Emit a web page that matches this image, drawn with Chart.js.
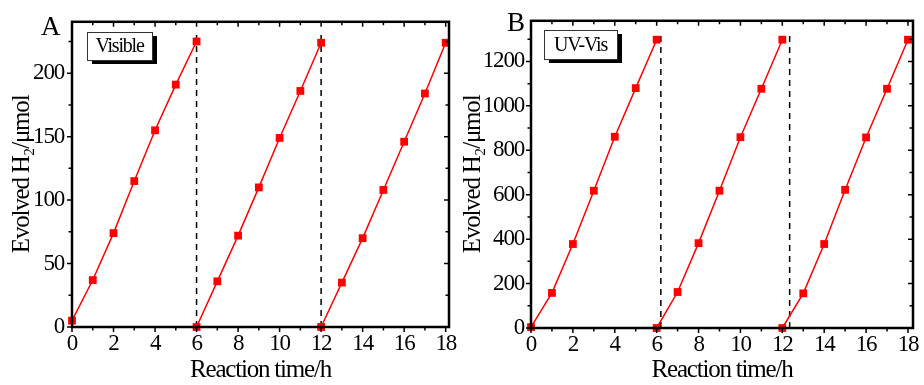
<!DOCTYPE html>
<html>
<head>
<meta charset="utf-8">
<script src="https://cdn.jsdelivr.net/npm/chart.js@4"></script>
<style>
  body { margin: 0; background: #fff; }
  #wrap { position: relative; width: 924px; height: 385px; }
  canvas { position: absolute; top: 0; }
</style>
</head>
<body>
<div id="wrap">
  <canvas id="chartA" width="462" height="385" style="left:0"></canvas>
  <canvas id="chartB" width="462" height="385" style="left:462px"></canvas>
</div>
<script>
'use strict';

// reaction hours for the three cycles
const cycle1Hours = [0, 1, 2, 3, 4, 5, 6];
const cycle2Hours = [6, 7, 8, 9, 10, 11, 12];
const cycle3Hours = [12, 13, 14, 15, 16, 17, 18];

// evolved H2 (umol), visible light
const visibleCycle1 = [5, 37, 74, 115, 155, 191, 225];
const visibleCycle2 = [0, 36, 72, 110, 149, 186, 224];
const visibleCycle3 = [0, 35, 70, 108, 146, 184, 224];

// evolved H2 (umol), UV-Vis light
const uvvisCycle1 = [4, 158, 378, 618, 861, 1080, 1298];
const uvvisCycle2 = [0, 162, 382, 618, 859, 1077, 1298];
const uvvisCycle3 = [0, 156, 378, 622, 858, 1077, 1298];

// evacuation marks (dashed lines)
const visibleCuts = [6, 12];
const visibleCutTop = 231;
const uvvisCuts = [6.2, 12.35];
const uvvisCutTop = 1331;

// ticks
const xTicks = [0, 2, 4, 6, 8, 10, 12, 14, 16, 18];
const xMinorTicks = [1, 3, 5, 7, 9, 11, 13, 15, 17];
const visibleYTicks = [0, 50, 100, 150, 200];
const visibleYMinorTicks = [25, 75, 125, 175, 225];
const uvvisYTicks = [0, 200, 400, 600, 800, 1000, 1200];
const uvvisYMinorTicks = [100, 300, 500, 700, 900, 1100, 1300];

const serif = "'Liberation Serif', 'Times New Roman', serif";

function pairs(xs, ys) {
  return xs.map((x, i) => ({ x: x, y: ys[i] }));
}

function cycleSet(xs, ys) {
  return {
    data: pairs(xs, ys),
    borderColor: '#ff0000',
    backgroundColor: '#ff0000',
    borderWidth: 1.5,
    pointStyle: 'rect',
    pointRadius: 5.5,
    pointBorderWidth: 0,
    clip: false,
    tension: 0
  };
}

function cutSet(x, top) {
  return {
    data: [{ x: x, y: 0 }, { x: x, y: top }],
    borderColor: '#000',
    borderWidth: 1.5,
    borderDash: [6, 5],
    pointRadius: 0,
    clip: false
  };
}

// frame, inside/outside ticks, panel letter and condition box
const framePlugin = {
  id: 'frame',
  beforeDraw(chart) {
    chart.ctx.letterSpacing = '-1.2px';
  },
  afterDatasetsDraw(chart, args, opts) {
    const { ctx, chartArea: a } = chart;
    const x = chart.scales.x;
    const y = chart.scales.y;
    ctx.save();
    ctx.strokeStyle = '#000';
    ctx.lineWidth = 1.5;
    ctx.beginPath();
    const xMarks = [[opts.xMajor, 5], [opts.xMinor, 3.5]];
    xMarks.forEach(([vals, len]) => {
      vals.forEach(v => {
        const px = x.getPixelForValue(v);
        ctx.moveTo(px, a.bottom); ctx.lineTo(px, a.bottom + len);
        ctx.moveTo(px, a.top); ctx.lineTo(px, a.top + len);
      });
    });
    const yMarks = [[opts.yMajor, 5], [opts.yMinor, 3.5]];
    yMarks.forEach(([vals, len]) => {
      vals.forEach(v => {
        const py = y.getPixelForValue(v);
        ctx.moveTo(a.left, py); ctx.lineTo(a.left - len, py);
        ctx.moveTo(a.right, py); ctx.lineTo(a.right - len, py);
      });
    });
    ctx.stroke();
    ctx.lineWidth = 2.5;
    ctx.strokeRect(a.left, a.top, a.right - a.left, a.bottom - a.top);

    // panel letter
    ctx.letterSpacing = '0px';
    ctx.fillStyle = '#000';
    ctx.font = '27px ' + serif;
    ctx.textBaseline = 'alphabetic';
    ctx.textAlign = 'left';
    ctx.fillText(opts.letter, opts.letterX, opts.letterY);

    // condition box with shadow
    const b = opts.box;
    ctx.fillStyle = '#000';
    ctx.fillRect(b.x + 5, b.y + 4, b.w, b.h);
    ctx.fillStyle = '#fff';
    ctx.fillRect(b.x, b.y, b.w, b.h);
    ctx.lineWidth = 1;
    ctx.strokeStyle = '#333';
    ctx.strokeRect(b.x + 0.5, b.y + 0.5, b.w, b.h);
    ctx.letterSpacing = '-1.2px';
    ctx.fillStyle = '#000';
    ctx.font = '20px ' + serif;
    ctx.textAlign = 'center';
    ctx.textBaseline = 'middle';
    ctx.fillText(b.text, b.x + b.w / 2, b.y + b.h / 2 + 1);
    ctx.restore();
  }
};

function makeChart(canvasId, cfg) {
  const config = {
    type: 'line',
    data: {
      datasets: [
        cycleSet(cycle1Hours, cfg.c1),
        cycleSet(cycle2Hours, cfg.c2),
        cycleSet(cycle3Hours, cfg.c3),
        cutSet(cfg.cuts[0], cfg.cutTop),
        cutSet(cfg.cuts[1], cfg.cutTop)
      ]
    },
    options: {
      responsive: false,
      animation: false,
      devicePixelRatio: 1,
      layout: { padding: { top: 15, right: cfg.padRight, left: 0, bottom: 0 } },
      plugins: {
        legend: { display: false },
        tooltip: { enabled: false },
        frame: {
          xMajor: xTicks, xMinor: xMinorTicks,
          yMajor: cfg.yTicks, yMinor: cfg.yMinor,
          letter: cfg.letter, letterX: cfg.letterX, letterY: cfg.letterY,
          box: cfg.box
        }
      },
      scales: {
        x: {
          type: 'linear',
          min: 0,
          max: cfg.xMax,
          afterBuildTicks: s => { s.ticks = xTicks.map(v => ({ value: v })); },
          afterFit: s => { s.height = cfg.bottomSpace; },
          grid: { display: false, drawTicks: false },
          border: { display: false },
          ticks: {
            color: '#000', padding: 3, maxRotation: 0,
            callback: v => String(v),
            font: { family: serif, size: 23 }
          },
          title: {
            display: true,
            text: 'Reaction time/h',
            color: '#000',
            padding: { top: 0, bottom: 0 },
            font: { family: serif, size: 25, lineHeight: 1.2 }
          }
        },
        y: {
          type: 'linear',
          min: 0,
          max: cfg.yMax,
          afterBuildTicks: s => { s.ticks = cfg.yTicks.map(v => ({ value: v })); },
          afterFit: s => { s.width = cfg.leftSpace; },
          grid: { display: false, drawTicks: false },
          border: { display: false },
          ticks: {
            color: '#000', padding: cfg.yPad,
            callback: v => String(v),
            font: { family: serif, size: 23 }
          },
          title: {
            display: true,
            text: 'Evolved H\u2082/\u03bcmol',
            color: '#000',
            padding: { top: cfg.titlePad, bottom: 0 },
            font: { family: serif, size: 25, lineHeight: 1 }
          }
        }
      }
    },
    plugins: [framePlugin]
  };
  return new Chart(document.getElementById(canvasId), config);
}

makeChart('chartA', {
  c1: visibleCycle1, c2: visibleCycle2, c3: visibleCycle3,
  cuts: visibleCuts, cutTop: visibleCutTop,
  yTicks: visibleYTicks, yMinor: visibleYMinorTicks,
  yMax: 240.5, xMax: 18.16,
  leftSpace: 72, bottomSpace: 58, padRight: 13, yPad: 8, titlePad: 10,
  letter: 'A', letterX: 41, letterY: 35,
  box: { x: 87, y: 32, w: 65, h: 28, text: 'Visible' }
});

makeChart('chartB', {
  c1: uvvisCycle1, c2: uvvisCycle2, c3: uvvisCycle3,
  cuts: uvvisCuts, cutTop: uvvisCutTop,
  yTicks: uvvisYTicks, yMinor: uvvisYMinorTicks,
  yMax: 1383, xMax: 18.24,
  leftSpace: 69, bottomSpace: 57, padRight: 11, yPad: 7, titlePad: -1,
  letter: 'B', letterX: 45, letterY: 31,
  box: { x: 82, y: 30, w: 73, h: 29, text: 'UV-Vis' }
});
</script>
</body>
</html>
